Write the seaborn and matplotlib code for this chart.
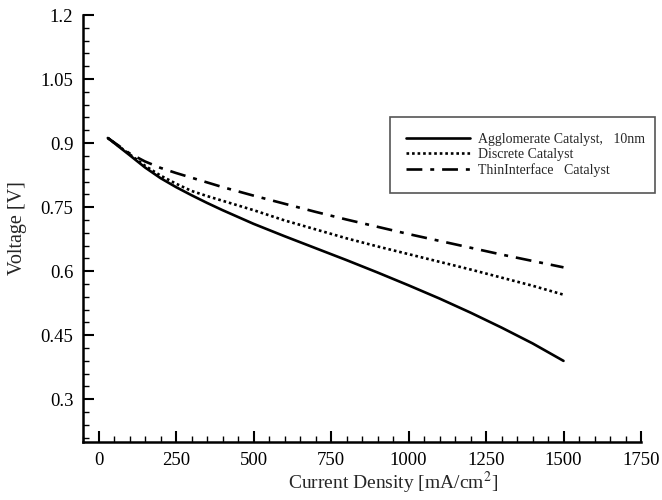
import matplotlib
matplotlib.use("Agg")
import matplotlib.pyplot as plt
import numpy as np
import pandas as pd
import seaborn as sns
from matplotlib.ticker import MultipleLocator, FixedLocator

# Polarization curves: current density [mA/cm^2] vs cell voltage [V]
current = [30, 100, 150, 200, 250, 300, 350, 400, 450, 500, 600, 700, 800, 900,
           1000, 1100, 1200, 1300, 1400, 1500]
v_agglomerate = [0.912, 0.872, 0.843, 0.818, 0.797, 0.778, 0.760, 0.743, 0.727, 0.711,
                 0.682, 0.654, 0.626, 0.597, 0.567, 0.536, 0.503, 0.468, 0.431, 0.390]
v_discrete = [0.912, 0.874, 0.847, 0.824, 0.805, 0.788, 0.776, 0.765, 0.754, 0.743,
              0.719, 0.698, 0.677, 0.658, 0.640, 0.622, 0.604, 0.585, 0.566, 0.545]
v_thin = [0.912, 0.876, 0.857, 0.842, 0.830, 0.819, 0.808, 0.797, 0.787, 0.777,
          0.758, 0.739, 0.721, 0.704, 0.687, 0.671, 0.655, 0.639, 0.624, 0.609]

labels = ["Agglomerate Catalyst,   10nm", "Discrete Catalyst", "ThinInterface   Catalyst"]
x_ticks = [0, 250, 500, 750, 1000, 1250, 1500, 1750]
y_ticks = [0.3, 0.45, 0.6, 0.75, 0.9, 1.05, 1.2]
y_ticklabels = ["0.3", "0.45", "0.6", "0.75", "0.9", "1.05", "1.2"]

n = len(current)
df = pd.DataFrame({
    "current": current * 3,
    "voltage": v_agglomerate + v_discrete + v_thin,
    "model": [labels[0]] * n + [labels[1]] * n + [labels[2]] * n,
})

sns.set_style("ticks")
plt.rcParams["font.family"] = ["Liberation Serif", "DejaVu Serif"]
plt.rcParams["mathtext.fontset"] = "stix"
plt.rcParams["xtick.direction"] = "in"
plt.rcParams["ytick.direction"] = "in"

fig = plt.figure(figsize=(6.62, 5.0), dpi=100)
ax = fig.add_axes([83 / 662, 1 - 442 / 500, (641 - 83) / 662, (442 - 15) / 500])

styles = {
    labels[0]: "-",
    labels[1]: (0, (1.0, 1.1)),
    labels[2]: (0, (6, 3, 1.5, 3)),
}
for name in labels:
    sns.lineplot(data=df[df["model"] == name], x="current", y="voltage", ax=ax,
                 color="black", lw=1.9, linestyle=styles[name], label=name,
                 estimator=None, sort=False)

ax.set_xlim(-50, 1750)
ax.set_ylim(0.2, 1.2)
ax.xaxis.set_major_locator(FixedLocator(x_ticks))
ax.set_xticklabels([str(t) for t in x_ticks])
ax.xaxis.set_minor_locator(MultipleLocator(50))
ax.yaxis.set_major_locator(FixedLocator(y_ticks))
ax.set_yticklabels(y_ticklabels)
ax.yaxis.set_minor_locator(MultipleLocator(0.03))

for side in ("top", "right"):
    ax.spines[side].set_visible(False)
for side in ("left", "bottom"):
    ax.spines[side].set_linewidth(1.8)
    ax.spines[side].set_color("black")

ax.tick_params(which="major", direction="in", length=8, width=1.5, labelsize=13.5,
               colors="black", pad=7)
ax.tick_params(which="minor", direction="in", length=4, width=1.0, colors="black")

ax.set_xlabel("Current Density [mA/cm$^2$]", fontsize=14, labelpad=3)
ax.xaxis.set_label_coords(0.555, -0.066)
ax.set_ylabel("Voltage [V]", fontsize=14.5, labelpad=10)

leg = ax.legend(loc="upper left", bbox_to_anchor=(0.55, 0.585, 0.475, 0.177),
                mode="expand", fontsize=10, frameon=True, fancybox=False,
                handlelength=4.6, handletextpad=0.6, borderpad=1.15,
                labelspacing=0.15, borderaxespad=0)
leg.get_frame().set_edgecolor("#555555")
leg.get_frame().set_linewidth(1.2)
leg.get_frame().set_alpha(1)

fig.savefig("out.png", dpi=100)
